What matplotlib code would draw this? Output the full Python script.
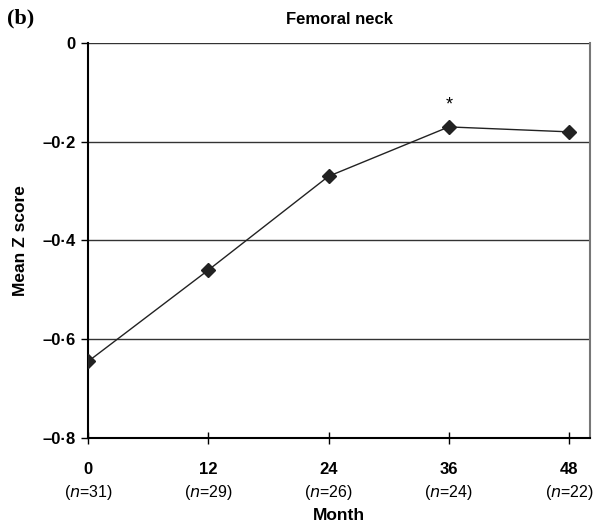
import matplotlib.pyplot as plt
from matplotlib.transforms import blended_transform_factory

plt.rcParams['font.family'] = ['Liberation Sans', 'DejaVu Sans']

months = [0, 12, 24, 36, 48]
n_counts = [31, 29, 26, 24, 22]
mean_z = [-0.645, -0.46, -0.27, -0.17, -0.18]
y_ticks = [0, -0.2, -0.4, -0.6, -0.8]
y_tick_labels = ['0', '\u20130\u00b72', '\u20130\u00b74', '\u20130\u00b76', '\u20130\u00b78']

fig = plt.figure(figsize=(6.02, 5.31), dpi=100)
ax = fig.add_axes([0.1462, 0.1751, 0.834, 0.744])

for yv in y_ticks[:-1]:
    ax.axhline(yv, color='#333333', lw=1.0, zorder=1)

ax.plot(months, mean_z, color='#222222', lw=1.0, marker='D', ms=7,
        markerfacecolor='#222222', markeredgecolor='#222222', zorder=3)
ax.text(36, mean_z[3] + 0.045, '*', ha='center', va='center', fontsize=13)

ax.set_xlim(0, 50.1)
ax.set_ylim(-0.8, 0)
ax.set_xticks(months)
ax.set_xticklabels([str(m) for m in months], fontweight='bold', fontsize=12)
ax.set_yticks(y_ticks)
ax.set_yticklabels(y_tick_labels, fontweight='bold', fontsize=12)
ax.tick_params(axis='x', direction='inout', length=8, width=1, pad=13)
ax.tick_params(axis='y', direction='out', length=5, width=1, pad=4)

ax.spines['top'].set_visible(False)
ax.spines['right'].set_color('#777777')
ax.spines['right'].set_linewidth(1.5)
ax.spines['left'].set_linewidth(1.5)
ax.spines['bottom'].set_linewidth(1.5)

trans = blended_transform_factory(ax.transData, ax.transAxes)
for m, n in zip(months, n_counts):
    ax.text(m, -0.137, '($n$=%d)' % n, transform=trans, ha='center', va='center', fontsize=11.5)

ax.set_xlabel('Month', fontweight='bold', fontsize=12.5)
ax.xaxis.set_label_coords(0.5, -0.195)
ax.xaxis.label.set_va('center')
ax.set_ylabel('Mean Z score', fontweight='bold', fontsize=12.5, labelpad=10)
ax.set_title('Femoral neck', fontweight='bold', fontsize=12, pad=14)
fig.text(0.012, 0.966, '(b)', fontfamily='Liberation Serif', fontweight='bold', fontsize=16, va='center')

fig.savefig('out.png')
